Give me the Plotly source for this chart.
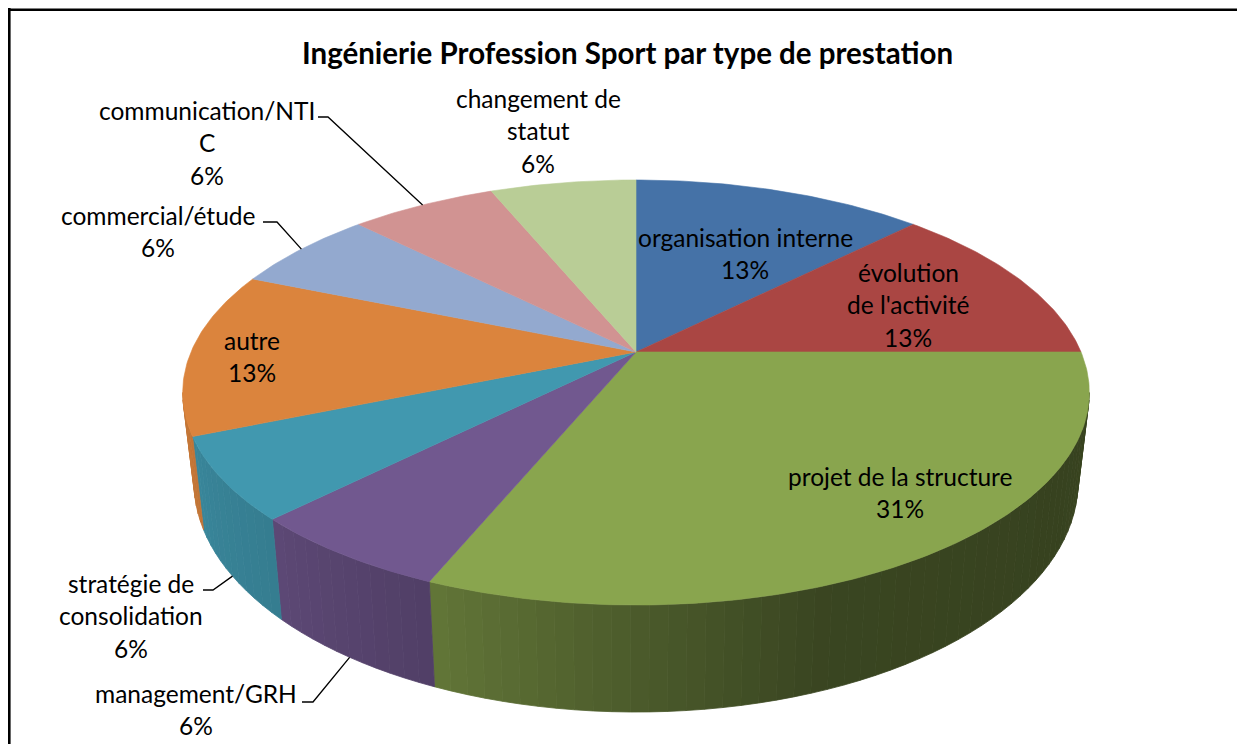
import numpy as np
import plotly.graph_objects as go

# ---------------- data ----------------
title = "Ingénierie Profession Sport par type de prestation"
categories = ["organisation interne", "évolution de l'activité", "projet de la structure",
              "management/GRH", "stratégie de consolidation", "autre",
              "commercial/étude", "communication/NTIC", "changement de statut"]
counts = [2, 2, 5, 1, 1, 2, 1, 1, 1]
label_lines = [["organisation interne"], ["évolution", "de l'activité"], ["projet de la structure"],
               ["management/GRH"], ["stratégie de", "consolidation"], ["autre"],
               ["commercial/étude"], ["communication/NTI", "C"], ["changement de", "statut"]]
colors = ["#4572A7", "#AA4643", "#89A54E", "#71588F", "#4198AF",
          "#DB843D", "#93A9CF", "#D19392", "#B9CD96"]

# ---------------- styling / geometry ----------------
FONT = "Lato"
LABEL_SIZE = 24.5
TITLE_SIZE = 29.5
CX, CY = 636.0, 352.0          # pie centre (pixels)
RX, RY = 445.0, 204.8          # radii
K = 0.1906                     # perspective factor
T = 86.6                       # thickness
SHRINK = 0.975                 # bottom rim narrower (perspective)
LINE_H = 32.5
label_pos = [(745, 237), (908, 272), (900, 476), (196, 693), (131, 583),
             (252, 340), (158, 215), (207, 110), (538, 98)]
leader = {3: ((302, 702), (313, 702), "bottom"),
          4: ((203, 590), (213, 590), "bottom"),
          6: ((263, 222), (277, 222), "top"),
          7: ((318, 117), (328, 117), "top")}

shade_ang = [101, 120, 160, 180, 202, 225, 247, 259]
shade_fac = [0.42, 0.40, 0.42, 0.55, 0.71, 0.82, 0.88, 0.90]
VIS_MIN, VIS_MAX = 101.0, 259.0


def proj(theta_deg, bottom=False):
    th = np.radians(np.asarray(theta_deg, dtype=float))
    s = 1.0 / (1.0 + K * np.cos(th))
    x = CX + RX * np.sin(th) * s
    y = CY - RY * np.cos(th) * s
    if bottom:
        x = CX + (x - CX) * SHRINK
        y = y + T * s
    return x, y


def shade(hexcol, f):
    h = hexcol.lstrip("#")
    r, g, b = (int(h[i:i + 2], 16) for i in (0, 2, 4))
    return "rgb(%d,%d,%d)" % (round(r * f), round(g * f), round(b * f))


total = float(sum(counts))
bounds = np.concatenate([[0.0], np.cumsum(counts) / total * 360.0])
pct = [int(c / total * 100 + 0.5) for c in counts]

fig = go.Figure()

# side walls (front half only), shaded strips
for i, col in enumerate(colors):
    a, b = max(bounds[i], VIS_MIN), min(bounds[i + 1], VIS_MAX)
    if a >= b:
        continue
    n = max(1, int(np.ceil((b - a) / 2.0)))
    edges = np.linspace(a, b, n + 1)
    for j in range(n):
        seg = np.linspace(edges[j], edges[j + 1], 4)
        xt, yt = proj(seg)
        xb, yb = proj(seg[::-1], bottom=True)
        f = float(np.interp((edges[j] + edges[j + 1]) / 2, shade_ang, shade_fac))
        c = shade(col, f)
        fig.add_trace(go.Scatter(x=np.concatenate([xt, xb, xt[:1]]),
                                 y=np.concatenate([yt, yb, yt[:1]]),
                                 mode="lines", fill="toself", fillcolor=c,
                                 line=dict(color=c, width=0.8), hoverinfo="skip"))

# top faces
for i, col in enumerate(colors):
    arc = np.linspace(bounds[i], bounds[i + 1], int(counts[i] * 30) + 2)
    xa, ya = proj(arc)
    fig.add_trace(go.Scatter(x=np.concatenate([[CX], xa, [CX]]),
                             y=np.concatenate([[CY], ya, [CY]]),
                             mode="lines", fill="toself", fillcolor=col,
                             line=dict(color=col, width=0.6), hoverinfo="skip",
                             name=categories[i]))

annotations = []
shapes = []
for i, lines in enumerate(label_lines):
    x0, y0 = label_pos[i]
    all_lines = lines + ["%d%%" % pct[i]]
    for j, txt in enumerate(all_lines):
        annotations.append(dict(x=x0, y=y0 + j * LINE_H, xref="x", yref="y", text=txt,
                                showarrow=False, xanchor="center", yanchor="middle",
                                font=dict(family=FONT, size=LABEL_SIZE, color="#000000")))
    if i in leader:
        p1, p2, where = leader[i]
        mid = (bounds[i] + bounds[i + 1]) / 2
        ex, ey = proj([mid], bottom=(where == "bottom"))
        shapes.append(dict(type="path", xref="x", yref="y",
                           path="M %.1f %.1f L %.1f %.1f L %.1f %.1f" % (p1[0], p1[1], p2[0], p2[1], ex[0], ey[0]),
                           line=dict(color="black", width=1.3)))

annotations.append(dict(x=627, y=52, xref="x", yref="y", text="<b>%s</b>" % title,
                        showarrow=False, xanchor="center", yanchor="middle",
                        font=dict(family=FONT, size=TITLE_SIZE, color="#000000")))

# chart-area border: only top and left edges fall inside the picture
shapes.append(dict(type="line", xref="x", yref="y", x0=8, y0=9.7, x1=1400, y1=9.7,
                   line=dict(color="black", width=2.6)))
shapes.append(dict(type="line", xref="x", yref="y", x0=9.3, y0=8, x1=9.3, y1=900,
                   line=dict(color="black", width=2.6)))

fig.update_layout(width=1237, height=744, margin=dict(l=0, r=0, t=0, b=0),
                  xaxis=dict(range=[0, 1237], visible=False, fixedrange=True),
                  yaxis=dict(range=[744, 0], visible=False, fixedrange=True),
                  plot_bgcolor="white", paper_bgcolor="white", showlegend=False,
                  annotations=annotations, shapes=shapes)

fig.write_html("out.html", config={"displayModeBar": False},
               post_script="document.body.style.margin='0';document.body.style.overflow='hidden';")
